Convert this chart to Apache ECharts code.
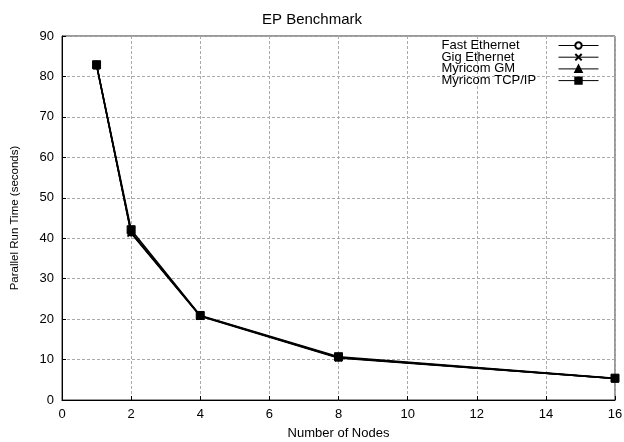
<!DOCTYPE html>
<html><head><meta charset="utf-8">
<script src="https://cdn.jsdelivr.net/npm/echarts@6/dist/echarts.min.js"></script>
<style>html,body{margin:0;padding:0;background:#fff}#c{width:624px;height:442px}</style>
</head><body><div id="c"></div>
<script>
const nodes = [1, 2, 4, 8, 16];
const fastEthernet = [82.9, 41.4, 20.8, 10.5, 5.3];
const gigEthernet = [82.8, 41.2, 20.7, 10.4, 5.3];
const myricomGM = [82.7, 41.5, 20.8, 10.5, 5.3];
const myricomTCP = [82.9, 42.1, 20.9, 10.7, 5.4];
const seriesNames = ['Fast Ethernet', 'Gig Ethernet', 'Myricom GM', 'Myricom TCP/IP'];
const xTicks = {min: 0, max: 16, interval: 2};
const yTicks = {min: 0, max: 90, interval: 10};

const crossPath = 'path://M0,0L10,10M10,0L0,10';
const font = 'Liberation Sans, Arial, Helvetica, sans-serif';
const circleStyle = {color: '#fff', borderColor: '#000', borderWidth: 1};
function mk(name, vals, symbol, size, extra) {
  return Object.assign({
    name: name, type: 'line',
    data: nodes.map((n, i) => [n, vals[i]]),
    symbol: symbol, symbolSize: size,
    lineStyle: {color: '#000', width: 1.5},
    itemStyle: {color: '#000', borderColor: '#000', borderWidth: 1},
    showAllSymbol: true, animation: false
  }, extra || {});
}
const chart = echarts.init(document.getElementById('c'));
chart.setOption({
  backgroundColor: '#fff',
  animation: false,
  title: {text: 'EP Benchmark', left: 'center', top: 7,
    textStyle: {fontFamily: font, fontSize: 15, fontWeight: 'normal', color: '#000'}},
  grid: {left: 62, right: 9, top: 36, bottom: 42, show: true, borderColor: '#333', borderWidth: 1,
    containLabel: false, outerBoundsMode: 'none'},
  legend: {
    data: seriesNames,
    orient: 'vertical', right: 25, top: 39, padding: 0,
    align: 'right', itemGap: -1.3, itemWidth: 40, itemHeight: 8,
    lineStyle: {width: 1},
    formatter: function (n) { return '{a|' + n + '}'; },
    textStyle: {fontFamily: font, fontSize: 13, color: '#000',
      rich: {a: {fontFamily: font, fontSize: 13, color: '#000', width: 112, align: 'left', lineHeight: 11.7}}}
  },
  xAxis: {
    type: 'value', min: xTicks.min, max: xTicks.max, interval: xTicks.interval,
    name: 'Number of Nodes', nameLocation: 'middle', nameGap: 27,
    nameTextStyle: {fontFamily: font, fontSize: 13, color: '#000'},
    axisLine: {lineStyle: {color: '#000'}},
    axisTick: {inside: true, length: 4, lineStyle: {color: '#000'}},
    axisLabel: {fontFamily: font, fontSize: 13, color: '#000', margin: 8},
    splitLine: {lineStyle: {color: '#aaa', type: [3, 2]}}
  },
  yAxis: {
    type: 'value', min: yTicks.min, max: yTicks.max, interval: yTicks.interval,
    name: 'Parallel Run Time (seconds)', nameLocation: 'middle', nameGap: 41,
    nameTextStyle: {fontFamily: font, fontSize: 11.5, color: '#000'},
    axisLine: {lineStyle: {color: '#000'}},
    axisTick: {inside: true, length: 4, lineStyle: {color: '#000'}},
    axisLabel: {fontFamily: font, fontSize: 13, color: '#000', margin: 8},
    splitLine: {lineStyle: {color: '#aaa', type: [3, 2]}}
  },
  series: [
    mk(seriesNames[0], fastEthernet, 'circle', 7, {itemStyle: circleStyle}),
    mk(seriesNames[1], gigEthernet, crossPath, 7, {itemStyle: {color: 'none', borderColor: '#000', borderWidth: 1.2}}),
    mk(seriesNames[2], myricomGM, 'triangle', 7),
    mk(seriesNames[3], myricomTCP, 'rect', 8)
  ]
});
</script></body></html>
